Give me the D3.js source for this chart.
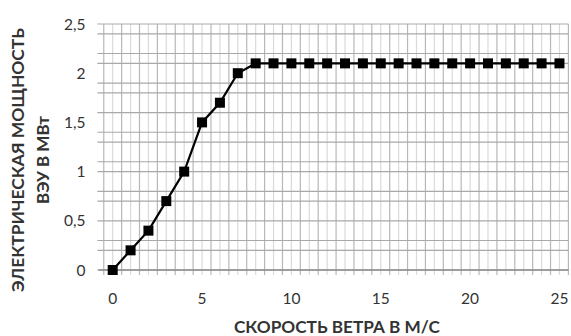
<!DOCTYPE html>
<html>
<head>
<meta charset="utf-8">
<script src="https://cdn.jsdelivr.net/npm/d3@7"></script>
<style>
  html, body { margin: 0; padding: 0; background: #fff; }
  svg { display: block; }
  text { font-family: Lato, "Open Sans", sans-serif; fill: #333; }
</style>
</head>
<body>
<svg id="chart" width="571" height="336"></svg>
<script>
// Wind turbine power curve: output (MW) vs wind speed (m/s)
const windSpeed = [0, 1, 2, 3, 4, 5, 6, 7, 8, 9, 10, 11, 12, 13, 14, 15, 16, 17, 18, 19, 20, 21, 22, 23, 24, 25];
const powerMW   = [0, 0.2, 0.4, 0.7, 1.0, 1.5, 1.7, 2.0, 2.1, 2.1, 2.1, 2.1, 2.1, 2.1, 2.1, 2.1, 2.1, 2.1, 2.1, 2.1, 2.1, 2.1, 2.1, 2.1, 2.1, 2.1];

const xTicks = [0, 5, 10, 15, 20, 25];
const yTicks = [0, 0.5, 1, 1.5, 2, 2.5];
const yGrid  = [0, 0.2, 0.3, 0.5, 0.7, 0.8, 1.0, 1.1, 1.3, 1.4, 1.6, 1.8, 1.9, 2.1, 2.2, 2.4, 2.5];

const xTitle = "СКОРОСТЬ ВЕТРА В М/С";
const yTitle = ["ЭЛЕКТРИЧЕСКАЯ МОЩНОСТЬ", "ВЭУ В МВт"];

const fmt = v => String(v).replace(".", ",");

const svg = d3.select("#chart");

const x = d3.scaleLinear().domain([-0.8, 25.5]).range([98.4, 568.4]);
const y = d3.scaleLinear().domain([0, 2.5]).range([270, 24]);

const grid = svg.append("g");

// vertical grid: stronger lines at half units, faint lines at whole units
grid.selectAll("line.vmin").data(d3.range(0, 25.01, 1)).join("line")
  .attr("x1", d => x(d)).attr("x2", d => x(d))
  .attr("y1", y(2.5)).attr("y2", y(0) + 5)
  .attr("stroke", "#dadada").attr("stroke-width", 1.2);
grid.selectAll("line.vmaj").data(d3.range(-0.5, 25.51, 1)).join("line")
  .attr("x1", d => x(d)).attr("x2", d => x(d))
  .attr("y1", y(2.5)).attr("y2", y(0) + 5)
  .attr("stroke", "#b8b8b8").attr("stroke-width", 1.2);

// horizontal grid
grid.selectAll("line.h").data(yGrid).join("line")
  .attr("x1", x(-0.8) - 1).attr("x2", x(25.5))
  .attr("y1", d => y(d)).attr("y2", d => y(d))
  .attr("stroke", "#a9a9a9").attr("stroke-width", 1.2);

// x axis baseline
svg.append("line")
  .attr("x1", x(-0.8)).attr("x2", x(25.5))
  .attr("y1", y(0)).attr("y2", y(0))
  .attr("stroke", "#8c8c8c").attr("stroke-width", 1.3);

// tick labels
svg.append("g").selectAll("text").data(xTicks).join("text")
  .attr("x", d => x(d)).attr("y", 303.5)
  .attr("text-anchor", "middle")
  .style("font-size", "15.5px")
  .text(d => fmt(d));

svg.append("g").selectAll("text").data(yTicks).join("text")
  .attr("x", 85.5).attr("y", d => y(d) + 5.5)
  .attr("text-anchor", "end")
  .style("font-size", "15.5px")
  .text(d => fmt(d));

// power curve
const line = d3.line().x((d, i) => x(windSpeed[i])).y(d => y(d));
svg.append("path")
  .datum(powerMW)
  .attr("d", line)
  .attr("fill", "none")
  .attr("stroke", "#000")
  .attr("stroke-width", 2.2);

const m = 10;
svg.append("g").selectAll("rect").data(powerMW).join("rect")
  .attr("x", (d, i) => x(windSpeed[i]) - m / 2)
  .attr("y", d => y(d) - m / 2)
  .attr("width", m).attr("height", m)
  .attr("fill", "#000");

// axis titles
svg.append("text")
  .attr("x", 337).attr("y", 333)
  .attr("text-anchor", "middle")
  .attr("textLength", 206).attr("lengthAdjust", "spacingAndGlyphs")
  .style("font-size", "17px").style("font-weight", "bold")
  .text(xTitle);

const yt = svg.append("text")
  .attr("transform", "translate(23.5,160) rotate(-90)")
  .attr("text-anchor", "middle")
  .style("font-size", "17px").style("font-weight", "bold");
yt.append("tspan").attr("x", 0).attr("y", 0)
  .attr("textLength", 264).attr("lengthAdjust", "spacingAndGlyphs")
  .text(yTitle[0]);
yt.append("tspan").attr("x", 0).attr("y", 25.5)
  .attr("textLength", 88).attr("lengthAdjust", "spacingAndGlyphs")
  .text(yTitle[1]);
</script>
</body>
</html>
